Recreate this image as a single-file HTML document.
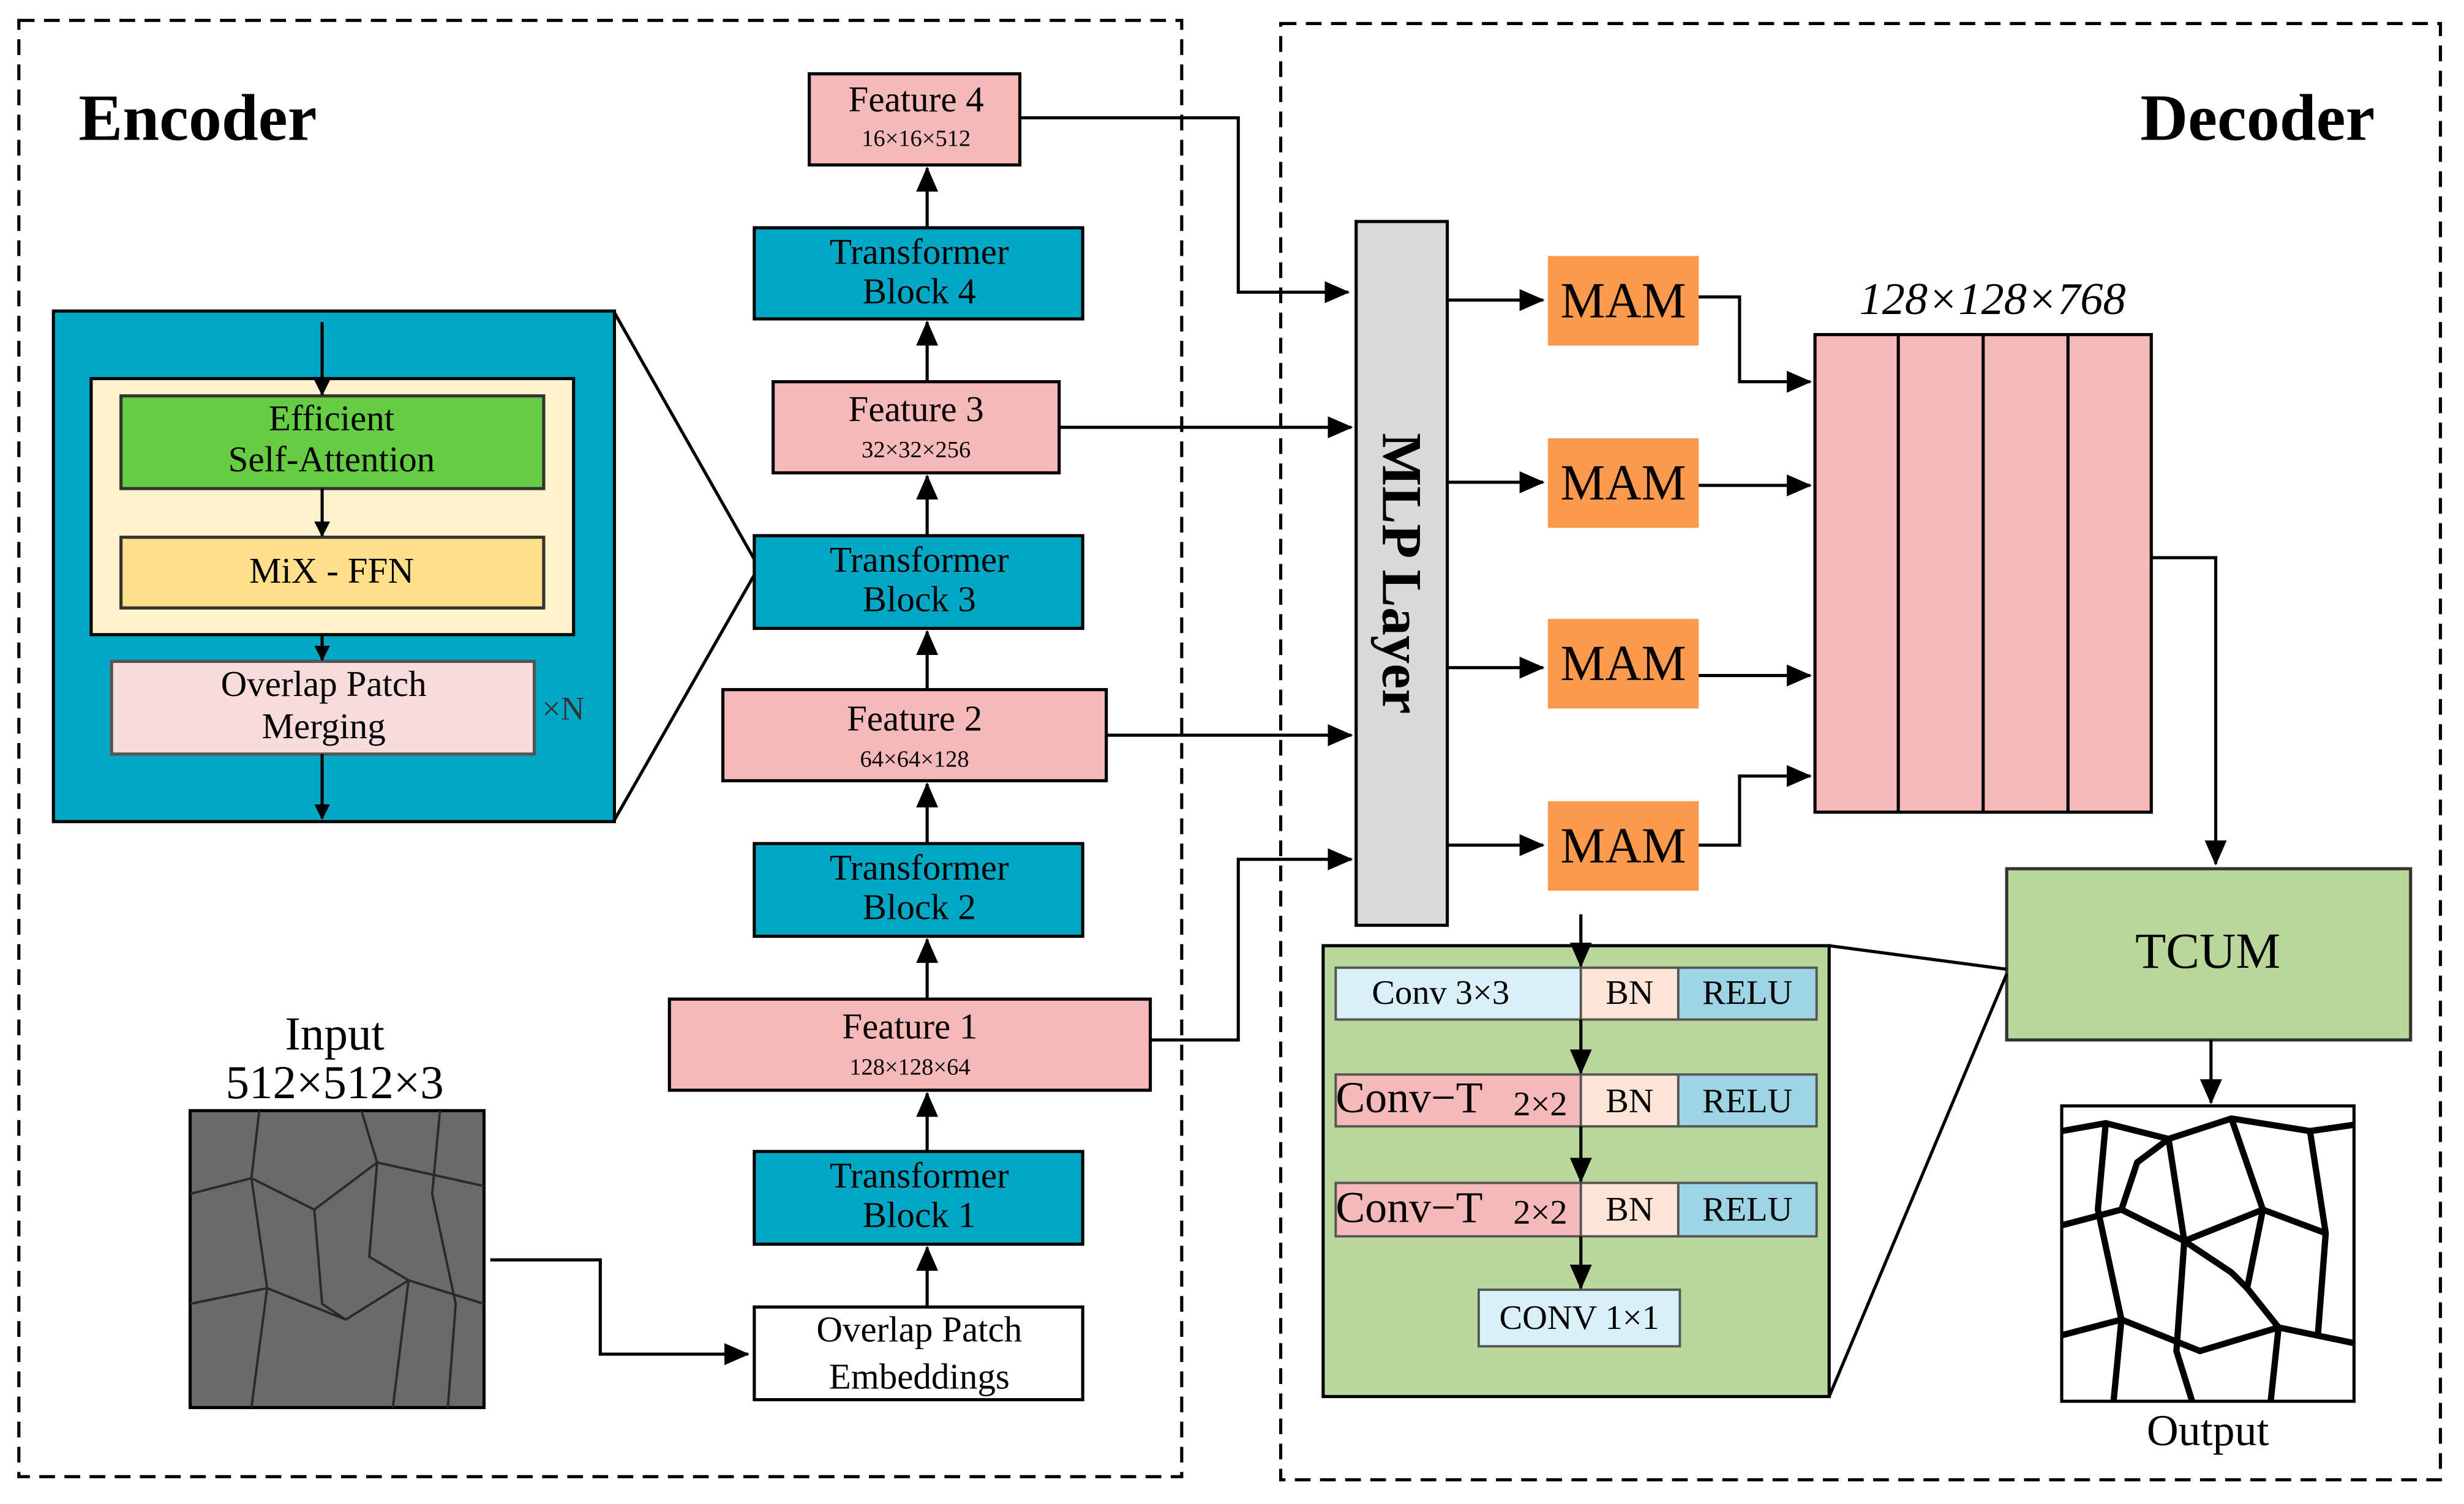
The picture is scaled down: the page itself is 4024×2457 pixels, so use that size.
<!DOCTYPE html>
<html><head><meta charset="utf-8"><style>html,body{margin:0;padding:0;background:#fff}svg{display:block}svg text{font-family:"Liberation Serif",serif}</style></head><body>
<svg width="4024" height="2457" viewBox="0 0 1568 957.4" preserveAspectRatio="none" xmlns="http://www.w3.org/2000/svg">
<defs><marker id="a" markerWidth="10" markerHeight="10" refX="9" refY="5" orient="auto" markerUnits="userSpaceOnUse"><path d="M0,0 L10,5 L0,10 z" fill="#000"/></marker>
<marker id="b" markerWidth="16" markerHeight="14" refX="15" refY="7" orient="auto" markerUnits="userSpaceOnUse"><path d="M0,0 L16,7 L0,14 z" fill="#000"/></marker></defs>
<rect width="1568" height="957.4" fill="#fff"/>
<rect x="12" y="13" width="740" height="927" fill="none" stroke="#000" stroke-width="2" stroke-dasharray="10,6"/>
<rect x="815" y="15" width="738" height="927" fill="none" stroke="#000" stroke-width="2" stroke-dasharray="10,6"/>
<text x="50" y="89" font-size="42" font-weight="bold">Encoder</text>
<text x="1362" y="89" font-size="42" font-weight="bold">Decoder</text>
<g stroke="#000" stroke-width="2">
<rect x="515" y="47" width="134" height="58" fill="#f4b9b8"/>
<rect x="480" y="145" width="209" height="58" fill="#00a8c6"/>
<rect x="492" y="243" width="182" height="58" fill="#f4b9b8"/>
<rect x="480" y="341" width="209" height="59" fill="#00a8c6"/>
<rect x="460" y="439" width="244" height="58" fill="#f4b9b8"/>
<rect x="480" y="537" width="209" height="59" fill="#00a8c6"/>
<rect x="426" y="636" width="306" height="58" fill="#f4b9b8"/>
<rect x="480" y="733" width="209" height="59" fill="#00a8c6"/>
<rect x="480" y="832" width="209" height="59" fill="#fff"/>
</g>
<g font-size="23" text-anchor="middle">
<text x="583" y="71">Feature 4</text><text x="583" y="93" font-size="15">16×16×512</text>
<text x="585" y="168">Transformer</text><text x="585" y="193">Block 4</text>
<text x="583" y="268">Feature 3</text><text x="583" y="291" font-size="15">32×32×256</text>
<text x="585" y="364">Transformer</text><text x="585" y="389">Block 3</text>
<text x="582" y="465">Feature 2</text><text x="582" y="488" font-size="15">64×64×128</text>
<text x="585" y="560">Transformer</text><text x="585" y="585">Block 2</text>
<text x="579" y="661">Feature 1</text><text x="579" y="684" font-size="15">128×128×64</text>
<text x="585" y="756">Transformer</text><text x="585" y="781">Block 1</text>
<text x="585" y="854">Overlap Patch</text><text x="585" y="884">Embeddings</text>
</g>
<g stroke="#000" stroke-width="2" marker-end="url(#b)">
<line x1="590" y1="832" x2="590" y2="794"/><line x1="590" y1="733" x2="590" y2="696"/>
<line x1="590" y1="636" x2="590" y2="598"/><line x1="590" y1="537" x2="590" y2="499"/>
<line x1="590" y1="439" x2="590" y2="402"/><line x1="590" y1="341" x2="590" y2="303"/>
<line x1="590" y1="243" x2="590" y2="205"/><line x1="590" y1="145" x2="590" y2="107"/>
</g>
<rect x="34" y="198" width="357" height="325" fill="#00a8c6" stroke="#000" stroke-width="2"/>
<rect x="58" y="241" width="307" height="163" fill="#fff2cc" stroke="#000" stroke-width="2"/>
<rect x="77" y="252" width="269" height="59" fill="#66cc44" stroke="#333" stroke-width="2"/>
<rect x="77" y="342" width="269" height="45" fill="#ffe08a" stroke="#333" stroke-width="2"/>
<rect x="71" y="421" width="269" height="59" fill="#f8dcdc" stroke="#555" stroke-width="2"/>
<g font-size="23" text-anchor="middle">
<text x="211" y="274">Efficient</text><text x="211" y="300">Self-Attention</text>
<text x="211" y="371">MiX - FFN</text>
<text x="206" y="443">Overlap Patch</text><text x="206" y="470">Merging</text>
</g>
<text x="345" y="458" font-size="21" fill="#333">×N</text>
<g stroke="#000" stroke-width="2" marker-end="url(#a)">
<line x1="205" y1="205" x2="205" y2="251"/><line x1="205" y1="311" x2="205" y2="341"/>
<line x1="205" y1="404" x2="205" y2="420"/><line x1="205" y1="480" x2="205" y2="521"/>
</g>
<line x1="391" y1="199" x2="480" y2="356" stroke="#000" stroke-width="2"/>
<line x1="391" y1="522" x2="480" y2="366" stroke="#000" stroke-width="2"/>
<text x="213" y="668" font-size="30" text-anchor="middle">Input</text>
<text x="213" y="699" font-size="30" text-anchor="middle">512×512×3</text>
<rect x="121" y="707" width="187" height="189" fill="#6a6a6a" stroke="#000" stroke-width="2"/>
<g stroke="#2a2a2a" stroke-width="1.5" fill="none">
<path d="M121,760 L160,750 L200,770 L240,740 L308,755"/><path d="M121,830 L170,820 L220,840 L260,815 L308,830"/>
<path d="M165,707 L160,750 L170,820 L160,896"/><path d="M230,707 L240,740 L235,800 L260,815 L250,896"/>
<path d="M200,770 L205,830 L220,840"/><path d="M280,707 L275,760 L290,830 L285,896"/>
</g>
<polyline points="312,802 382,802 382,862 476,862" fill="none" stroke="#000" stroke-width="2" marker-end="url(#b)"/>
<rect x="863" y="141" width="58" height="448" fill="#d9d9d9" stroke="#000" stroke-width="2"/>
<text transform="translate(880,365) rotate(90)" font-size="36" font-weight="bold" text-anchor="middle">MLP Layer</text>
<g fill="#fb9a4c">
<rect x="985" y="163" width="96" height="57"/><rect x="985" y="279" width="96" height="57"/>
<rect x="985" y="394" width="96" height="57"/><rect x="985" y="510" width="96" height="57"/>
</g>
<g font-size="32" text-anchor="middle">
<text x="1033" y="202">MAM</text><text x="1033" y="318">MAM</text><text x="1033" y="433">MAM</text><text x="1033" y="549">MAM</text>
</g>
<text x="1268" y="200" font-size="29" font-style="italic" text-anchor="middle">128×128×768</text>
<rect x="1155" y="213" width="214" height="304" fill="#f4b9b8" stroke="#000" stroke-width="2"/>
<g stroke="#000" stroke-width="2"><line x1="1208" y1="213" x2="1208" y2="517"/><line x1="1262" y1="213" x2="1262" y2="517"/><line x1="1316" y1="213" x2="1316" y2="517"/></g>
<rect x="1277" y="553" width="257" height="109" fill="#b9d79b" stroke="#333" stroke-width="2"/>
<text x="1405" y="616" font-size="32" text-anchor="middle">TCUM</text>
<rect x="842" y="602" width="322" height="287" fill="#b9d79b" stroke="#000" stroke-width="2"/>
<line x1="1164" y1="602" x2="1277" y2="617" stroke="#000" stroke-width="2"/>
<line x1="1164" y1="889" x2="1277" y2="620" stroke="#000" stroke-width="2"/>
<g stroke="#555" stroke-width="1.5">
<rect x="850" y="616" width="156" height="33" fill="#d9f0f8"/><rect x="1006" y="616" width="62" height="33" fill="#fce4d6"/><rect x="1068" y="616" width="88" height="33" fill="#9dd5e5"/>
<rect x="850" y="684" width="156" height="33" fill="#f4b9b8"/><rect x="1006" y="684" width="62" height="33" fill="#fce4d6"/><rect x="1068" y="684" width="88" height="33" fill="#9dd5e5"/>
<rect x="850" y="753" width="156" height="34" fill="#f4b9b8"/><rect x="1006" y="753" width="62" height="34" fill="#fce4d6"/><rect x="1068" y="753" width="88" height="34" fill="#9dd5e5"/>
<rect x="941" y="821" width="128" height="36" fill="#d9f0f8"/>
</g>
<g stroke="#000" stroke-width="2" fill="none" marker-end="url(#b)">
<polyline points="649,75 788,75 788,186 858,186"/>
<line x1="674" y1="272" x2="860" y2="272"/>
<line x1="704" y1="468" x2="860" y2="468"/>
<polyline points="732,662 788,662 788,547 860,547"/>
<line x1="921" y1="191" x2="982" y2="191"/><line x1="921" y1="307" x2="982" y2="307"/>
<line x1="921" y1="425" x2="982" y2="425"/><line x1="921" y1="538" x2="982" y2="538"/>
<polyline points="1081,189 1107,189 1107,243 1152,243"/>
<line x1="1081" y1="309" x2="1152" y2="309"/>
<line x1="1081" y1="430" x2="1152" y2="430"/>
<polyline points="1081,538 1107,538 1107,494 1152,494"/>
<polyline points="1369,355 1410,355 1410,550"/>
<line x1="1407" y1="662" x2="1407" y2="702"/>
<line x1="1006" y1="582" x2="1006" y2="615"/>
<line x1="1006" y1="649" x2="1006" y2="683"/>
<line x1="1006" y1="717" x2="1006" y2="752"/>
<line x1="1006" y1="787" x2="1006" y2="820"/>
</g>
<g font-size="22">
<text x="873" y="639">Conv  3×3</text><text x="1037" y="639" text-anchor="middle">BN</text><text x="1112" y="639" text-anchor="middle">RELU</text>
<text x="850" y="708" font-size="28">Conv−T</text><text x="963" y="710">2×2</text><text x="1037" y="708" text-anchor="middle">BN</text><text x="1112" y="708" text-anchor="middle">RELU</text>
<text x="850" y="778" font-size="28">Conv−T</text><text x="963" y="779">2×2</text><text x="1037" y="777" text-anchor="middle">BN</text><text x="1112" y="777" text-anchor="middle">RELU</text>
<text x="1005" y="846" text-anchor="middle">CONV 1×1</text>
</g>
<rect x="1312" y="704" width="186" height="188" fill="#fff" stroke="#000" stroke-width="2"/>
<g stroke="#000" stroke-width="4" fill="none">
<path d="M1312,720 L1340,715 L1380,725 L1420,712 L1470,720 L1498,716"/>
<path d="M1312,780 L1350,770 L1390,790 L1440,770 L1480,785"/>
<path d="M1312,850 L1350,840 L1400,860 L1450,845 L1498,855"/>
<path d="M1340,715 L1335,770 L1350,840 L1345,892"/>
<path d="M1380,725 L1390,790 L1385,860 L1395,892"/>
<path d="M1420,712 L1440,770 L1430,820 L1450,845 L1445,892"/>
<path d="M1470,720 L1480,785 L1475,850"/>
<path d="M1350,770 L1360,740 L1380,725"/><path d="M1390,790 L1420,810 L1430,820"/>
</g>
<text x="1405" y="920" font-size="28" text-anchor="middle">Output</text>
</svg>
</body></html>
